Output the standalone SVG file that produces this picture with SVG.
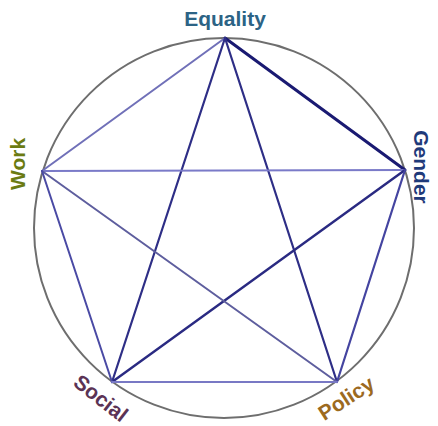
<svg xmlns="http://www.w3.org/2000/svg" width="438" height="426" viewBox="0 0 438 426">
<style>
.lbl{font-family:"Liberation Sans",Arial,sans-serif;font-weight:bold;font-size:21px;text-anchor:middle;dominant-baseline:central}
.e{fill:none;stroke-linecap:round}
</style>
<rect width="438" height="426" fill="#ffffff"/>
<g id="circle"><circle cx="224" cy="228" r="190" fill="none" stroke="#6e6e6e" stroke-width="2"/></g>
<g id="connectors">
<line class="e" x1="225" y1="38" x2="405" y2="170" stroke="#1a1a72" stroke-width="3"/>
<line class="e" x1="225" y1="38" x2="42" y2="171" stroke="#7070b8" stroke-width="2"/>
<line class="e" x1="225" y1="38" x2="112" y2="382" stroke="#2e2e86" stroke-width="2.2"/>
<line class="e" x1="225" y1="38" x2="337" y2="382" stroke="#2e2e86" stroke-width="2.2"/>
<line class="e" x1="42" y1="171" x2="405" y2="170" stroke="#7a7ac8" stroke-width="2"/>
<line class="e" x1="405" y1="170" x2="112" y2="382" stroke="#2a2a82" stroke-width="2.4"/>
<line class="e" x1="405" y1="170" x2="337" y2="382" stroke="#4444a0" stroke-width="2.2"/>
<line class="e" x1="42" y1="171" x2="337" y2="382" stroke="#5e5e9e" stroke-width="2"/>
<line class="e" x1="42" y1="171" x2="112" y2="382" stroke="#4a4aa4" stroke-width="2"/>
<line class="e" x1="112" y1="382" x2="337" y2="382" stroke="#7878c4" stroke-width="2"/>
</g>
<g id="equality"><text class="lbl" x="225" y="18" fill="#2c6385">Equality</text></g>
<g id="gender"><text class="lbl" transform="translate(421,167) rotate(90)" fill="#1f3a7a">Gender</text></g>
<g id="work"><text class="lbl" transform="translate(17,164) rotate(-90)" fill="#6b7b12">Work</text></g>
<g id="social"><text class="lbl" transform="translate(101,398) rotate(38)" fill="#5b3355">Social</text></g>
<g id="policy"><text class="lbl" transform="translate(346,398) rotate(-33)" fill="#9c6a1f">Policy</text></g>
</svg>
